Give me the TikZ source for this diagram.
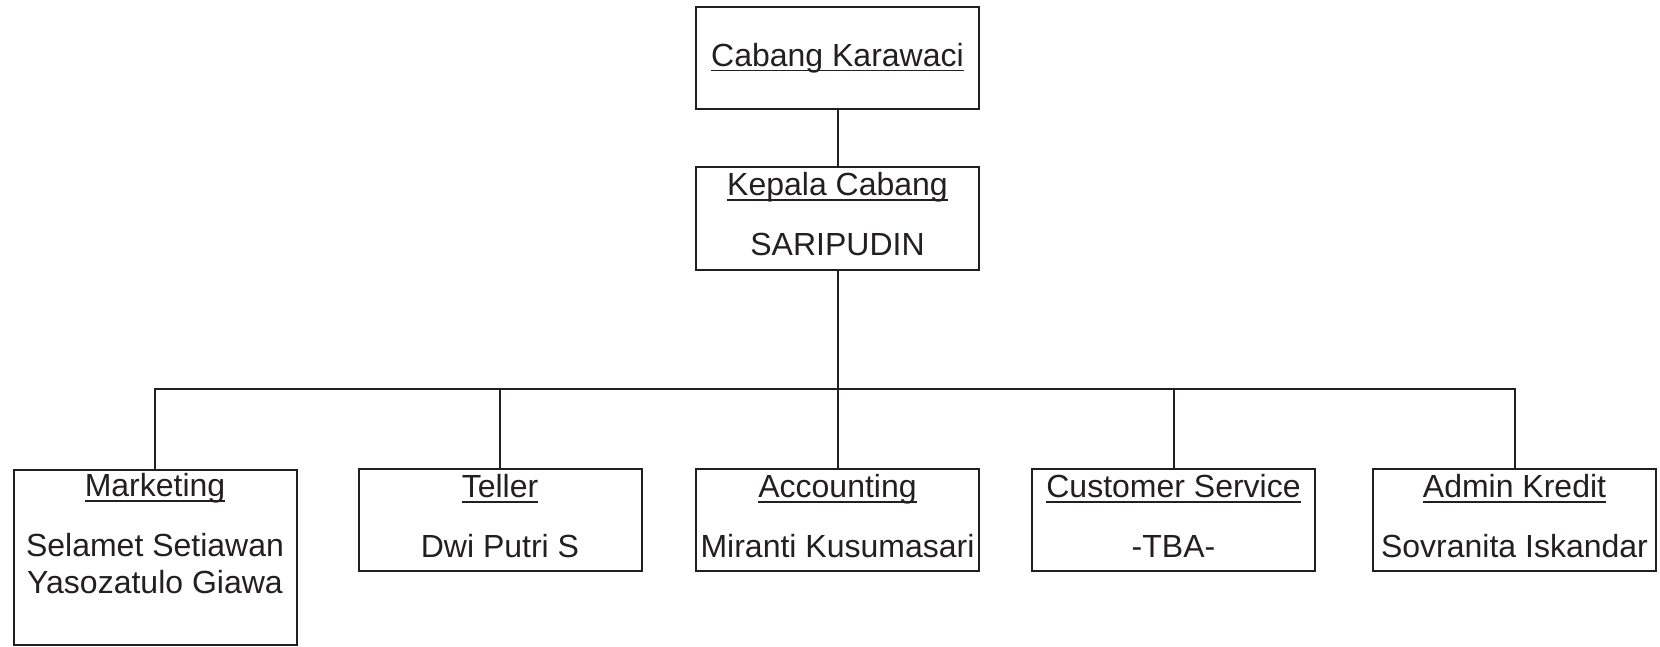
\documentclass[tikz,border=0pt]{standalone}
\usepackage{fontspec}
\setmainfont{Liberation Sans}
\definecolor{ink}{HTML}{231F20}
\newcommand\hdr[1]{\setbox0\hbox{#1}\rlap{\rule[-2.6pt]{\wd0}{0.9pt}}\box0}
\begin{document}
\begin{tikzpicture}[x=0.5pt, y=-0.5pt,
  box/.style={draw=ink, line width=1pt, text=ink, align=center, inner sep=0pt,
    minimum width=141.5pt, minimum height=51pt,
    font=\fontsize{16}{18.4}\selectfont},
  twoline/.style={text depth=4.2pt},
  link/.style={draw=ink, line width=1pt}]

  \useasboundingbox (0,0) rectangle (1660,647);

  % boxes
  \node[box] (kar) at (837.5, 58) {\hdr{Cabang Karawaci}};
  \node[box, twoline] (kep) at (837.5, 218.5) {\hdr{Kepala Cabang}\\[11.6pt]SARIPUDIN};
  \node[box, minimum height=87.5pt, text depth=24pt] (mkt) at (155, 557.5)
    {\hdr{Marketing}\\[11.6pt]Selamet Setiawan\\Yasozatulo Giawa};
  \node[box, twoline] (tel) at (500, 520) {\hdr{Teller}\\[11.6pt]Dwi Putri S};
  \node[box, twoline] (acc) at (837.5, 520) {\hdr{Accounting}\\[11.6pt]Miranti Kusumasari};
  \node[box, twoline] (cs) at (1173.5, 520) {\hdr{Customer Service}\\[11.6pt]-TBA-};
  \node[box, twoline] (adm) at (1514.5, 520) {\hdr{Admin Kredit}\\[11.6pt]Sovranita Iskandar};
  \coordinate (bus) at (837.5, 388.5);

  % connections
  \draw[link] (kar) -- (kep);
  \draw[link] (kep) -- (acc);
  \draw[link] (mkt.north) |- (bus) -| (adm.north);
  \draw[link] (tel.north) -- (tel.north |- bus);
  \draw[link] (cs.north) -- (cs.north |- bus);

\end{tikzpicture}
\end{document}
